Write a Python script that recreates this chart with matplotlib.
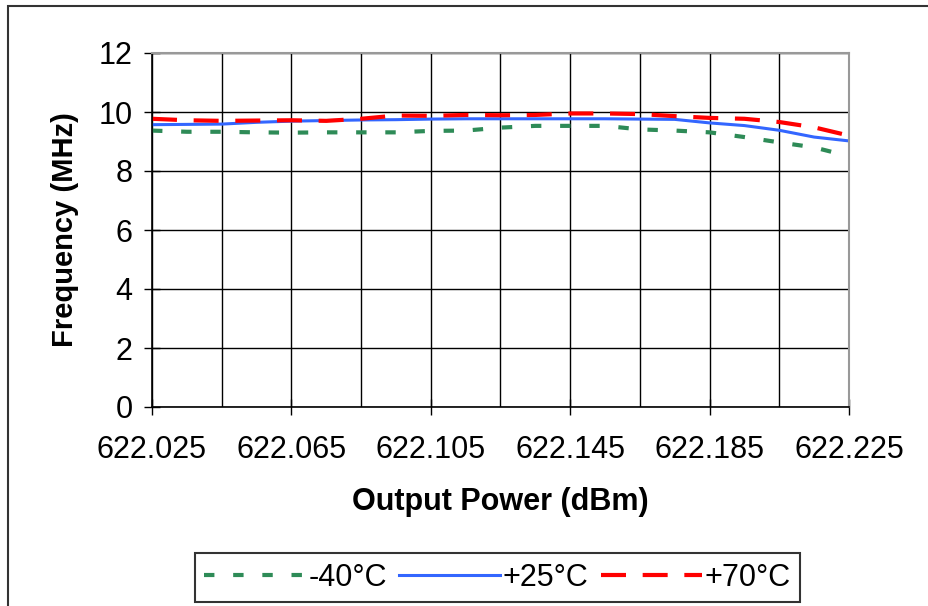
import numpy as np
import matplotlib
matplotlib.use("Agg")
import matplotlib.pyplot as plt
from matplotlib.patches import Rectangle
from matplotlib.ticker import FixedLocator, FormatStrFormatter

plt.rcParams['font.family'] = ['Liberation Sans', 'DejaVu Sans']

# data
output_power = [622.025, 622.035, 622.045, 622.055, 622.065, 622.075, 622.085,
                622.095, 622.105, 622.115, 622.125, 622.135, 622.145, 622.155,
                622.165, 622.175, 622.185, 622.195, 622.205, 622.215, 622.225]
freq_m40 = [9.37, 9.33, 9.33, 9.31, 9.30, 9.31, 9.31, 9.31, 9.36, 9.37, 9.47,
            9.53, 9.53, 9.53, 9.41, 9.37, 9.31, 9.15, 8.97, 8.80, 8.50]
freq_p25 = [9.57, 9.58, 9.59, 9.65, 9.69, 9.71, 9.73, 9.74, 9.76, 9.77, 9.77,
            9.77, 9.77, 9.77, 9.76, 9.75, 9.63, 9.54, 9.38, 9.15, 9.02]
freq_p70 = [9.77, 9.72, 9.70, 9.71, 9.72, 9.70, 9.77, 9.88, 9.87, 9.90, 9.89,
            9.90, 9.95, 9.95, 9.93, 9.86, 9.80, 9.77, 9.66, 9.48, 9.20]
series_labels = ['-40°C', '+25°C', '+70°C']

x_ticks = [622.025, 622.065, 622.105, 622.145, 622.185, 622.225]
x_grid = [622.025 + 0.02 * i for i in range(11)]
y_ticks = [0, 2, 4, 6, 8, 10, 12]

W, H = 929, 606
fig = plt.figure(figsize=(W / 100, H / 100), dpi=100)
ax = fig.add_axes([152 / W, 1 - 407 / H, (849 - 152) / W, (407 - 53) / H])

# outer chart frame
fig.patches.append(Rectangle((8 / W, -0.1), 1.2, 1.1 - 6 / H, transform=fig.transFigure,
                             fill=False, edgecolor='#333333', linewidth=1.5))

ax.plot(output_power, freq_m40, color='#2e8b57', linewidth=3, linestyle=(0, (2.5, 4.5)),
        label=series_labels[0])
ax.plot(output_power, freq_p25, color='#3366ff', linewidth=2.2, linestyle='-',
        label=series_labels[1])
ax.plot(output_power, freq_p70, color='#ff0000', linewidth=3, linestyle=(0, (6, 4)),
        label=series_labels[2])

ax.set_xlim(622.025, 622.225)
ax.set_ylim(0, 12)
ax.xaxis.set_major_locator(FixedLocator(x_ticks))
ax.xaxis.set_minor_locator(FixedLocator(x_grid))
ax.xaxis.set_major_formatter(FormatStrFormatter('%.3f'))
ax.set_yticks(y_ticks)
ax.grid(True, which='both', axis='x', color='black', linewidth=1)
ax.grid(True, which='major', axis='y', color='black', linewidth=1)
ax.tick_params(axis='both', which='major', direction='inout', length=12, width=1,
               labelsize=22, pad=6)
ax.tick_params(axis='x', which='minor', length=0)
ax.tick_params(axis='x', pad=14)
ax.tick_params(axis='y', pad=8)

for side in ['left', 'bottom']:
    ax.spines[side].set_color('black')
    ax.spines[side].set_linewidth(1.2)
for side in ['top', 'right']:
    ax.spines[side].set_color('#999999')
    ax.spines[side].set_linewidth(1.5)

ax.set_xlabel('Output Power (dBm)', fontsize=22, fontweight='bold', labelpad=16)
ax.set_ylabel('Frequency (MHz)', fontsize=21, fontweight='bold', labelpad=14)

leg = fig.legend(loc='center', bbox_to_anchor=(497.5 / W, 1 - 577.5 / H), ncol=3,
                 fontsize=22, frameon=True, fancybox=False, edgecolor='black',
                 handlelength=3.3, handletextpad=0.1, columnspacing=0.4,
                 borderpad=0.3)
leg.get_frame().set_linewidth(1.5)

fig.savefig('out.png', dpi=100)
